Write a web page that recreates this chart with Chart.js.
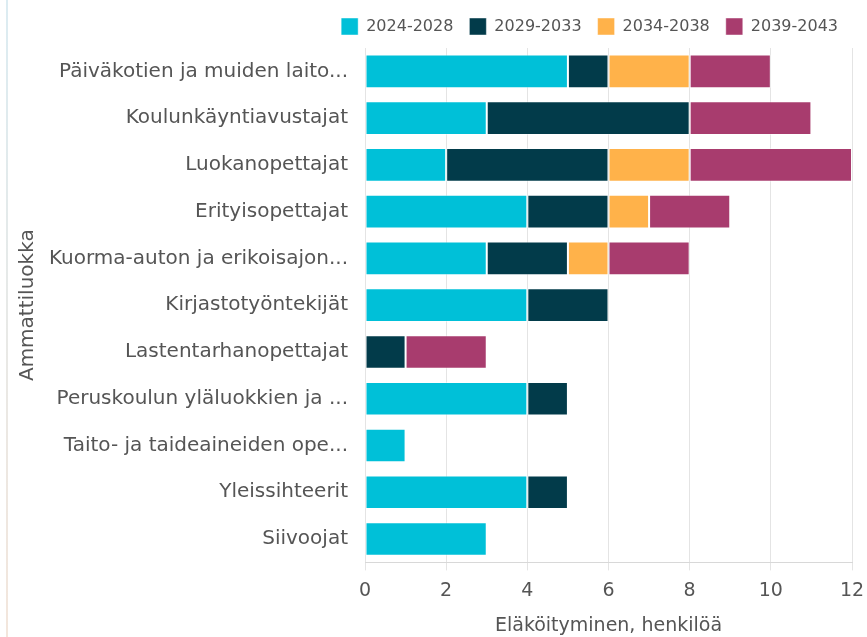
<!DOCTYPE html>
<html>
<head>
<meta charset="utf-8">
<script src="https://cdn.jsdelivr.net/npm/chart.js@4"></script>
<style>
  html, body { margin: 0; padding: 0; background: #fff; }
  #wrap { position: relative; width: 867px; height: 637px; }
  #edge { position: absolute; left: 6px; top: 0; width: 2px; height: 637px;
          background: linear-gradient(#dcecf2, #f3e6dc); }
</style>
</head>
<body>
<div id="wrap">
  <div id="edge"></div>
  <canvas id="chart" width="867" height="637"></canvas>
</div>
<script>
const categories = [
  'Päiväkotien ja muiden laito...',
  'Koulunkäyntiavustajat',
  'Luokanopettajat',
  'Erityisopettajat',
  'Kuorma-auton ja erikoisajon...',
  'Kirjastotyöntekijät',
  'Lastentarhanopettajat',
  'Peruskoulun yläluokkien ja ...',
  'Taito- ja taideaineiden ope...',
  'Yleissihteerit',
  'Siivoojat'
];
const seriesNames = ['2024-2028', '2029-2033', '2034-2038', '2039-2043'];
const v2024 = [5, 3, 2, 4, 3, 4, 0, 4, 1, 4, 3];
const v2029 = [1, 5, 4, 2, 2, 2, 1, 1, 0, 1, 0];
const v2034 = [2, 0, 2, 1, 1, 0, 0, 0, 0, 0, 0];
const v2039 = [2, 3, 4, 2, 2, 0, 2, 0, 0, 0, 0];
const xTicks = [0, 2, 4, 6, 8, 10, 12];

const colors = ['#00c0d8', '#023b4a', '#ffb24a', '#a83c6e'];
const values = [v2024, v2029, v2034, v2039];

const font = 'DejaVu Sans';
const grey = '#555555';

// a bit more room between legend and plot
const legendGap = {
  id: 'legendGap',
  beforeInit(chart) {
    const fit = chart.legend.fit;
    chart.legend.fit = function () {
      fit.call(this);
      this.height += 3;
    };
  }
};

new Chart(document.getElementById('chart'), {
  type: 'bar',
  data: {
    labels: categories,
    datasets: seriesNames.map((name, i) => ({
      label: name,
      data: values[i],
      backgroundColor: colors[i],
      borderColor: 'rgba(255,255,255,0.45)',
      borderWidth: 1,
      borderSkipped: false,
      categoryPercentage: 0.8,
      barPercentage: 0.9
    }))
  },
  options: {
    indexAxis: 'y',
    responsive: false,
    animation: false,
    layout: { padding: { left: 14, right: 13, top: 2, bottom: 0 } },
    scales: {
      x: {
        stacked: true,
        min: 0,
        max: 12,
        afterBuildTicks: (s) => { s.ticks = xTicks.map(v => ({ value: v })); },
        afterFit: (s) => { s.paddingRight = 15; },
        grid: { color: '#e4e4e4', tickLength: 8, drawTicks: true },
        border: { color: '#d8d8d8' },
        ticks: { color: grey, font: { family: font, size: 19 }, padding: 9 },
        title: {
          display: true,
          text: 'Eläköityminen, henkilöä',
          color: grey,
          font: { family: font, size: 19 },
          padding: { top: 3, bottom: 0 }
        }
      },
      y: {
        stacked: true,
        afterFit: (s) => { s.width = 351; },
        grid: { display: false },
        border: { display: false },
        ticks: { color: grey, font: { family: font, size: 20 }, padding: 9 },
        title: {
          display: true,
          text: 'Ammattiluokka',
          color: grey,
          font: { family: font, size: 20 },
          padding: { top: 2, bottom: 0 }
        }
      }
    },
    plugins: {
      legend: {
        position: 'top',
        align: 'end',
        labels: {
          color: grey,
          boxWidth: 17,
          boxHeight: 17,
          padding: 16,
          font: { family: font, size: 16 }
        }
      },
      tooltip: { enabled: false }
    }
  },
  plugins: [legendGap]
});
</script>
</body>
</html>
